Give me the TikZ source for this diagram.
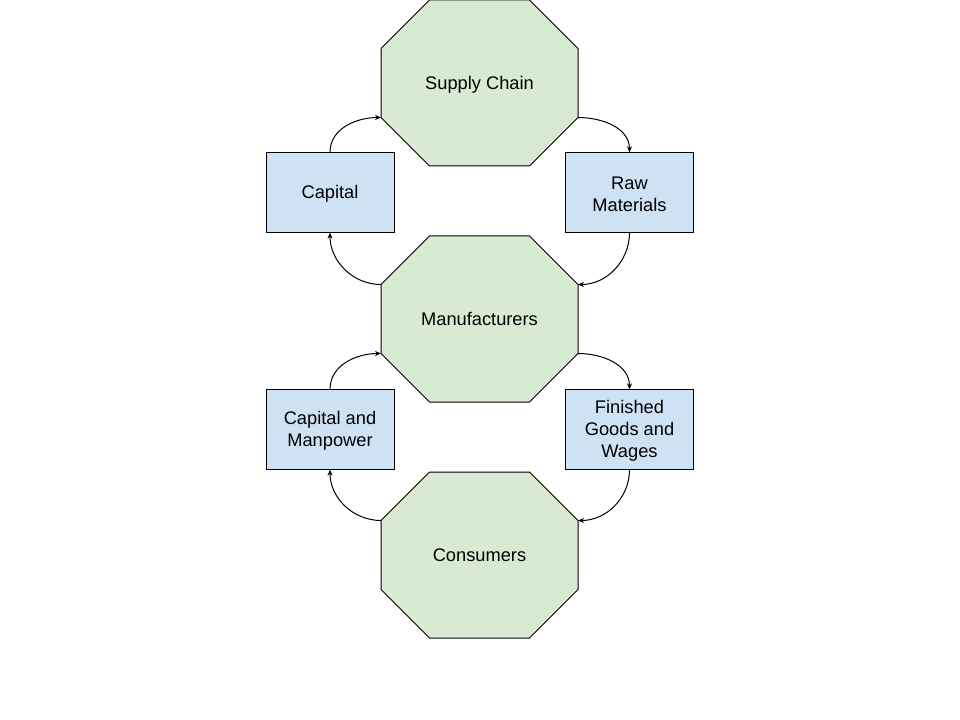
\documentclass[tikz,border=0pt]{standalone}
\usepackage{fontspec}
\setmainfont{Liberation Sans}
\usetikzlibrary{arrows.meta}
\definecolor{octgreen}{HTML}{D9EAD3}
\definecolor{boxblue}{HTML}{CFE2F3}
\tikzset{
  octfill/.style={draw=black, fill=octgreen, line width=0.75pt, line join=miter},
  octtext/.style={font=\fontsize{13.7}{16.5}\selectfont, inner sep=0pt, text height=9.8pt, text depth=0pt},
  flowbox/.style={draw=black, fill=boxblue, line width=0.75pt, minimum width=96pt, minimum height=59.5pt, inner sep=0pt},
  boxtext/.style={align=center, inner sep=0pt, font=\fontsize{13.7}{16.5}\selectfont},
  arr/.style={line width=0.75pt, -{Stealth[length=4.5pt, width=3.8pt]}},
}
\newcommand{\octag}[4]{%
  \path[octfill] (#2-98.5,#3+34.5) coordinate (#1-wu) -- (#2-50,#3+83) -- (#2+50,#3+83)
     -- (#2+98.5,#3+34.5) coordinate (#1-eu) -- (#2+98.5,#3-34.5) coordinate (#1-el)
     -- (#2+50,#3-83) -- (#2-50,#3-83) -- (#2-98.5,#3-34.5) coordinate (#1-wl) -- cycle;
  \node[octtext] (#1) at (#2,#3) {#4};}
\begin{document}
\begin{tikzpicture}[x=0.75pt,y=0.75pt]
\useasboundingbox (0,0) rectangle (960,-720);
\octag{sc}{479.5}{-83}{Supply Chain}
\octag{mf}{479.5}{-319}{Manufacturers}
\octag{co}{479.5}{-555}{Consumers}
\node[flowbox] (cap) at (330,-192.5) {};
\node[flowbox] (raw) at (629.5,-192.5) {};
\node[flowbox] (cm) at (330,-429.5) {};
\node[flowbox] (fg) at (629.5,-429.5) {};
\node[boxtext] (capt) at ([yshift=-1.2pt]cap.center) {Capital};
\node[boxtext] (rawt) at ([yshift=-1.0pt]raw.center) {Raw\\Materials};
\node[boxtext] (cmt) at ([yshift=-1.2pt]cm.center) {Capital and\\Manpower};
\node[boxtext] (fgt) at ([yshift=-1.2pt]fg.center) {Finished\\Goods and\\Wages};
\draw[arr] (cap.north) to[out=90,in=180] (sc-wl);
\draw[arr] (sc-el) to[out=0,in=90] (raw.north);
\draw[arr] (mf-wu) to[out=180,in=270] (cap.south);
\draw[arr] (raw.south) to[out=270,in=0] (mf-eu);
\draw[arr] (cm.north) to[out=90,in=180] (mf-wl);
\draw[arr] (mf-el) to[out=0,in=90] (fg.north);
\draw[arr] (fg.south) to[out=270,in=0] (co-eu);
\draw[arr] (co-wu) to[out=180,in=270] (cm.south);
\end{tikzpicture}
\end{document}
